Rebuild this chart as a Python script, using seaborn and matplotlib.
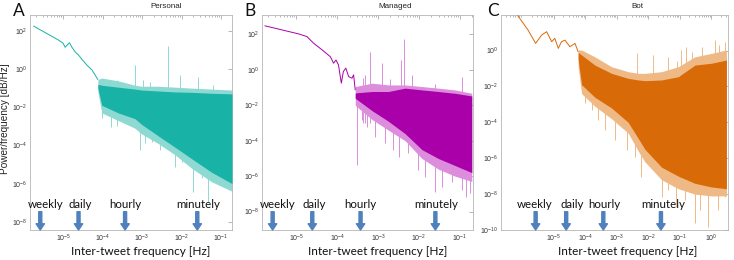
import numpy as np
import seaborn as sns
import matplotlib.pyplot as plt
from matplotlib.ticker import FixedLocator, LogLocator, NullFormatter, NullLocator

sns.set_style("white")
plt.rcParams['font.family'] = ['Liberation Sans', 'DejaVu Sans']

titles = ["Personal", "Managed", "Bot"]
letters = ["A", "B", "C"]
marks = ["weekly", "daily", "hourly", "minutely"]
mark_f = [-5.58, -4.61, -3.43, -1.60]          # log10 Hz, where the arrows point

# all values below are log10 (frequency in Hz, power in dB/Hz)
# A - personal
a_line_f = [-5.75, -5.12, -5.0, -4.95, -4.84, -4.78, -4.70, -4.61, -4.50, -4.40, -4.27, -4.19, -4.12]
a_line_p = [2.25, 1.52, 1.35, 1.14, 1.38, 1.15, 0.91, 0.73, 0.45, 0.21, -0.05, -0.31, -0.55]
a_band_f = [-4.12, -4.02, -3.60, -3.18, -3.01, -2.59, -2.16, -1.74, -1.24, -0.72]
a_light_hi = [-0.55, -0.47, -0.62, -0.85, -0.9, -0.9, -0.95, -1.0, -1.05, -1.1]
a_dark_hi = [-0.8, -0.85, -0.95, -1.05, -1.1, -1.15, -1.2, -1.22, -1.27, -1.3]
a_dark_lo = [-1.0, -1.9, -2.3, -2.6, -2.9, -3.5, -4.1, -4.7, -5.4, -6.0]
a_light_lo = [-1.2, -2.3, -2.7, -3.1, -3.4, -3.9, -4.5, -5.2, -5.9, -6.4]
a_up_f = [-3.64, -3.18, -2.97, -2.33, -2.04, -1.57, -2.8, -1.2]
a_up_p = [-0.58, 0.21, -0.58, 1.2, -0.31, -0.40, -0.7, -0.85]
a_down_f = [-4.02, -3.78, -3.43, -3.05, -2.92, -2.75, -2.54, -2.42, -2.16, -2.0,
            -1.70, -1.49, -1.32, -1.07, -0.82]
a_down_p = [-2.58, -3.02, -2.76, -4.24, -3.89, -3.8, -4.24, -3.98, -5.11, -4.85,
            -6.42, -5.72, -6.95, -5.98, -6.16]

# B - managed
b_line_f = [-5.77, -4.94, -4.74, -4.58, -4.37, -4.17, -4.09, -4.03, -3.97, -3.90, -3.85, -3.79, -3.72, -3.64, -3.60, -3.56]
b_line_p = [2.49, 2.03, 1.88, 1.51, 1.13, 0.75, 0.38, 0.56, 0.28, -0.75, -0.09, 0.1, -0.38, -0.47, -0.28, -1.13]
b_band_f = [-3.56, -3.15, -2.75, -2.34, -1.93, -1.53, -1.12, -0.71]
b_light_hi = [-0.94, -0.75, -0.85, -0.85, -0.94, -1.03, -1.13, -1.32]
b_dark_hi = [-1.3, -1.22, -1.22, -1.03, -1.13, -1.22, -1.32, -1.47]
b_dark_lo = [-1.6, -2.3, -2.9, -3.6, -4.5, -5.0, -5.4, -5.8]
b_light_lo = [-2.0, -2.8, -3.4, -4.0, -5.0, -5.6, -6.0, -6.3]
b_up_f = [-3.36, -3.32, -3.2, -2.91, -2.45, -2.37, -2.18, -0.96, -2.7, -1.6]
b_up_p = [-0.47, -0.28, 1.03, 0.38, 0.56, 1.73, -0.28, -0.38, -0.5, -0.8]
b_down_f = [-3.52, -3.40, -3.28, -3.07, -2.83, -2.63, -2.50, -2.26, -2.02, -1.85,
            -1.61, -1.45, -1.20, -0.96, -0.84, -0.76]
b_down_p = [-5.37, -2.82, -3.2, -3.77, -4.14, -4.52, -4.9, -4.71, -5.65, -6.03,
            -6.87, -6.59, -6.31, -6.78, -7.16, -6.97]

# C - bot
c_line_f = [-6.15, -5.82, -5.58, -5.39, -5.23, -5.07, -4.97, -4.86, -4.76, -4.65, -4.49, -4.33, -4.23]
c_line_p = [1.95, 1.14, 0.40, 0.86, 1.05, 0.49, 0.68, 0.12, 0.49, 0.58, 0.21, 0.40, -0.07]
c_band_f = [-4.23, -4.12, -3.70, -3.17, -2.64, -2.32, -2.11, -1.58, -1.05, -0.52, 0.0, 0.48]
c_light_hi = [0.03, 0.03, -0.35, -0.9, -1.18, -1.27, -1.27, -1.18, -0.9, -0.35, -0.16, 0.03]
c_dark_hi = [-0.1, -0.25, -0.81, -1.27, -1.55, -1.64, -1.68, -1.64, -1.46, -0.81, -0.71, -0.53]
c_dark_lo = [-0.5, -1.9, -2.6, -3.2, -4.0, -4.9, -5.5, -6.5, -7.0, -7.4, -7.6, -7.7]
c_light_lo = [-0.9, -2.4, -3.1, -3.8, -4.6, -5.6, -6.2, -7.2, -7.7, -8.0, -8.1, -8.1]
c_up_f = [-2.37, -1.85, -1.37, -0.95, -0.79, -0.31, 0.11, 0.43, -1.1, -0.6, 0.25]
c_up_p = [-0.16, -0.25, -0.35, 0.03, 0.21, 0.21, 0.58, 0.49, -0.6, -0.1, 0.3]
c_down_f = [-4.02, -3.80, -3.59, -3.38, -3.06, -2.69, -2.43, -2.22, -1.90, -1.58, -1.37,
            -1.11, -0.84, -0.52, -0.37, -0.10, 0.22, 0.43]
c_down_p = [-2.94, -3.31, -3.87, -4.43, -4.99, -5.54, -5.92, -7.03, -6.47, -8.14, -7.77,
            -8.7, -8.33, -9.63, -8.89, -9.82, -8.89, -8.14]

# axis ranges (log10) and tick lists
a_xlim, a_ylim = (-5.84, -0.72), (-8.43, 2.83)
b_xlim, b_ylim = (-5.84, -0.68), (-9.04, 3.1)
c_xlim, c_ylim = (-6.68, 0.53), (-10.0, 1.98)
ab_xticks = [-5, -4, -3, -2, -1]
c_xticks = [-5, -4, -3, -2, -1, 0]
ab_yticks = [-8, -6, -4, -2, 0, 2]
c_yticks = [-10, -8, -6, -4, -2, 0]

colors = ["#18b2a7", "#a900a9", "#d96a08"]
lights = ["#8fd9d3", "#dc8edc", "#efb986"]
arrow_blue = "#4f81bd"

# small horizontal nudges (points) of the marker words relative to their arrows
a_lab_dx = [4, 1.5, 0.5, 0.5]
b_lab_dx = [3.5, 1.2, 0, 0.5]
c_lab_dx = [-1, 4, 0.5, 1.5]

P = lambda v: 10.0 ** np.asarray(v, dtype=float)


def draw_panel(ax, line_f, line_p, band_f, light_hi, dark_hi, dark_lo, light_lo,
               up_f, up_p, down_f, down_p, col, light, xlim, ylim, xt, yt, lab_dx):
    ax.set_xscale('log')
    ax.set_yscale('log')
    # spikes sticking out of the dense part
    ax.vlines(P(up_f), P([-3.0] * len(up_f)), P(up_p), color=light, lw=0.7, zorder=1)
    ax.vlines(P(down_f), P(down_p), P([-2.0] * len(down_f)), color=light, lw=0.7, zorder=1)
    ax.fill_between(P(band_f), P(light_lo), P(light_hi), color=light, lw=0, zorder=2)
    ax.fill_between(P(band_f), P(dark_lo), P(dark_hi), color=col, lw=0, zorder=3)
    sns.lineplot(x=P(line_f), y=P(line_p), ax=ax, color=col, lw=0.7, sort=False,
                 estimator=None, zorder=4)
    ax.set_xlim(P(xlim))
    ax.set_ylim(P(ylim))
    ax.xaxis.set_major_locator(FixedLocator(P(xt)))
    ax.xaxis.set_minor_locator(LogLocator(base=10, subs=np.arange(2, 10)))
    ax.xaxis.set_minor_formatter(NullFormatter())
    ax.yaxis.set_major_locator(FixedLocator(P(yt)))
    ax.yaxis.set_minor_locator(NullLocator())
    ax.tick_params(which='both', direction='in', top=True, right=True,
                   labelsize=5, colors='#9a9a9a', labelcolor='#333333', width=0.5)
    ax.tick_params(which='major', length=3, pad=2)
    ax.tick_params(which='minor', length=1.5)
    for s in ax.spines.values():
        s.set_color('#b5b5b5')
        s.set_linewidth(0.6)
    # frequency markers
    tr = ax.get_xaxis_transform()
    for lab, f, dx in zip(marks, mark_f, lab_dx):
        ax.annotate('', xy=(P(f), 0.0), xycoords=tr, xytext=(P(f), 0.085), textcoords=tr,
                    arrowprops=dict(arrowstyle='simple,head_length=4.5,head_width=6,tail_width=2.2',
                                    mutation_scale=1, color=arrow_blue, shrinkA=0, shrinkB=0),
                    zorder=6)
        ax.annotate(lab, xy=(P(f), 0.12), xycoords=tr, xytext=(dx, 0),
                    textcoords='offset points', ha='center', va='center',
                    fontsize=8.3, family=['Lato', 'DejaVu Sans'], color='#111111', zorder=6)
    ax.set_xlabel('Inter-tweet frequency [Hz]', fontsize=8.5, family=['Lato', 'DejaVu Sans'],
                  color='#111111')
    ax.xaxis.label.set_va('center')


fig = plt.figure(figsize=(7.34, 2.6), dpi=100)
ax_a = fig.add_axes([30 / 734, 30 / 260, 202 / 734, 215 / 260])
ax_b = fig.add_axes([262 / 734, 30 / 260, 211 / 734, 215 / 260])
ax_c = fig.add_axes([501 / 734, 30 / 260, 227 / 734, 215 / 260])

draw_panel(ax_a, a_line_f, a_line_p, a_band_f, a_light_hi, a_dark_hi, a_dark_lo, a_light_lo,
           a_up_f, a_up_p, a_down_f, a_down_p, colors[0], lights[0], a_xlim, a_ylim,
           ab_xticks, ab_yticks, a_lab_dx)
draw_panel(ax_b, b_line_f, b_line_p, b_band_f, b_light_hi, b_dark_hi, b_dark_lo, b_light_lo,
           b_up_f, b_up_p, b_down_f, b_down_p, colors[1], lights[1], b_xlim, b_ylim,
           ab_xticks, ab_yticks, b_lab_dx)
draw_panel(ax_c, c_line_f, c_line_p, c_band_f, c_light_hi, c_dark_hi, c_dark_lo, c_light_lo,
           c_up_f, c_up_p, c_down_f, c_down_p, colors[2], lights[2], c_xlim, c_ylim,
           c_xticks, c_yticks, c_lab_dx)

ax_a.xaxis.set_label_coords(0.55, -0.098)
ax_b.xaxis.set_label_coords(0.55, -0.098)
ax_c.xaxis.set_label_coords(0.56, -0.098)

ax_a.set_ylabel('Power/frequency [dB/Hz]', fontsize=7.2, color='#222222')
ax_a.yaxis.set_label_coords(-0.098, 0.52)

title_x = [0.673, 0.63, 0.60]
letter_x = [13, 244, 487]
for ax, t, tx, lt, lx in zip([ax_a, ax_b, ax_c], titles, title_x, letters, letter_x):
    ax.text(tx, 1 + 9 / 215, t, transform=ax.transAxes, ha='center', va='center',
            fontsize=5.8, color='#222222')
    fig.text(lx / 734, 1 - 11 / 260, lt, ha='left', va='center', fontsize=12.5,
             family=['Lato', 'DejaVu Sans'], color='#111111')

fig.savefig('out.png', dpi=100)
